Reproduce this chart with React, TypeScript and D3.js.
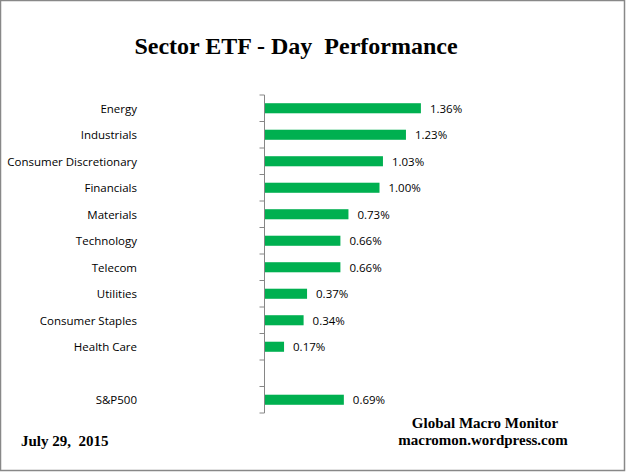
import React from "react";
import * as d3 from "d3";

const categories = [
  "Energy",
  "Industrials",
  "Consumer Discretionary",
  "Financials",
  "Materials",
  "Technology",
  "Telecom",
  "Utilities",
  "Consumer Staples",
  "Health Care",
  "",
  "S&P500",
];
const values: (number | null)[] = [1.36, 1.23, 1.03, 1.0, 0.73, 0.66, 0.66, 0.37, 0.34, 0.17, null, 0.69];
const valueLabels = ["1.36%", "1.23%", "1.03%", "1.00%", "0.73%", "0.66%", "0.66%", "0.37%", "0.34%", "0.17%", "", "0.69%"];
const title = "Sector ETF - Day  Performance";
const dateText = "July 29,  2015";
const credit1 = "Global Macro Monitor";
const credit2 = "macromon.wordpress.com";

const W = 626;
const H = 472;

export default function App() {
  const axisX = 264.5;
  const x = d3.scaleLinear().domain([0, 1.6]).range([axisX, axisX + 184]);
  const keys = categories.map((_, i) => String(i));
  const y = d3
    .scaleBand<string>()
    .domain(keys)
    .range([95, 413])
    .paddingInner(0.62)
    .paddingOuter(0.31);
  const step = y.step();
  const top = 95;
  const ticks = d3.range(categories.length + 1).map((i) => top + i * step);
  const labelFont = "'Open Sans', 'Noto Sans', sans-serif";
  const serif = "'Liberation Serif', 'Times New Roman', serif";

  return (
    <svg
      width={W}
      height={H}
      style={{ position: "absolute", left: 0, top: 0, background: "#fff" }}
    >
      <rect x={0.5} y={0.5} width={624} height={470} fill="#fff" stroke="#888" strokeWidth={1.5} />
      <text
        x={296}
        y={54}
        textAnchor="middle"
        fontFamily={serif}
        fontWeight="bold"
        fontSize={24}
        style={{ whiteSpace: "pre" }}
        fill="#000"
      >
        {title}
      </text>

      {categories.map((c, i) => {
        const v = values[i];
        const yy = y(keys[i])!;
        const cy = yy + y.bandwidth() / 2 + 0.5;
        return (
          <g key={i}>
            {c && (
              <text
                x={137}
                y={cy}
                dy="0.35em"
                textAnchor="end"
                fontFamily={labelFont}
                fontSize={11.5}
                fill="#000"
              >
                {c}
              </text>
            )}
            {v !== null && (
              <>
                <rect x={x(0)} y={yy} width={x(v) - x(0)} height={y.bandwidth()} fill="#00B050" />
                <text
                  x={x(v) + 9}
                  y={cy}
                  dy="0.35em"
                  fontFamily={labelFont}
                  fontSize={11.5}
                  fill="#000"
                >
                  {valueLabels[i]}
                </text>
              </>
            )}
          </g>
        );
      })}

      <line x1={axisX} x2={axisX} y1={top} y2={ticks[ticks.length - 1]} stroke="#868686" strokeWidth={1} />
      {ticks.map((t, i) => (
        <line key={i} x1={axisX - 5} x2={axisX} y1={t} y2={t} stroke="#868686" strokeWidth={1} />
      ))}

      <text x={21} y={446} fontFamily={serif} fontWeight="bold" fontSize={15} style={{ whiteSpace: "pre" }} fill="#000">
        {dateText}
      </text>
      <text x={485} y={428} textAnchor="middle" fontFamily={serif} fontWeight="bold" fontSize={15} fill="#000">
        {credit1}
      </text>
      <text x={483} y={445} textAnchor="middle" fontFamily={serif} fontWeight="bold" fontSize={15} fill="#000">
        {credit2}
      </text>
    </svg>
  );
}
